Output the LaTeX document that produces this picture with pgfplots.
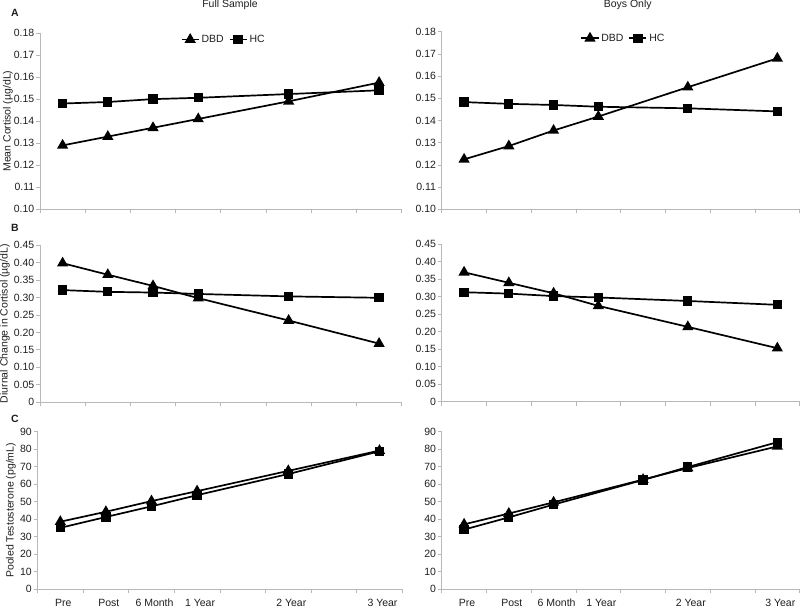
\documentclass[border=0pt]{standalone}
\usepackage{fontspec}
\setmainfont{Liberation Sans}
\usepackage{pgfplots}
\pgfplotsset{compat=1.18}
\definecolor{axgray}{gray}{0.72}
\definecolor{txt}{gray}{0.12}
\newcommand{\fs}{\fontsize{10.5}{12}\selectfont}
\pgfplotsset{
  panel/.style={
    scale only axis,
    axis lines=left,
    axis line style={-, axgray, line width=0.9pt},
    xmin=0, xmax=8,
    xtick={0,1,2,3,4,5,6,7,8},
    xticklabels={},
    tick style={axgray, line width=0.8pt},
    tick align=outside,
    major tick length=4pt,
    tick label style={font=\fs, text=txt},
    label style={font=\fs, text=txt},
    /pgf/number format/assume math mode=true,
    yticklabel style={inner sep=1.5pt},
    clip=false,
    every axis plot/.append style={black, line width=1.7pt},
    legend style={draw=none, fill=none, font=\fs, text=txt, legend columns=2,
      at={(0.508,0.963)}, anchor=center, inner sep=0pt,
      /tikz/every even column/.append style={column sep=3pt}},
  },
  dbd/.style={mark=triangle*, mark size=4.8pt},
  hc/.style={mark=square*, mark size=3.8pt},
  rowA/.style={ymin=0.10, ymax=0.18,
    ytick={0.10,0.11,0.12,0.13,0.14,0.15,0.16,0.17,0.18},
    yticklabels={0.10,0.11,0.12,0.13,0.14,0.15,0.16,0.17,0.18}},
  rowB/.style={ymin=0, ymax=0.45,
    ytick={0,0.05,0.10,0.15,0.20,0.25,0.30,0.35,0.40,0.45},
    yticklabels={0,0.05,0.10,0.15,0.20,0.25,0.30,0.35,0.40,0.45}},
  rowC/.style={ymin=0, ymax=90, ytick={0,10,20,30,40,50,60,70,80,90},
     extra x ticks={0.5,1.5,2.5,3.5,5.5,7.5},
     extra x tick labels={Pre,Post,6 Month,1 Year,2 Year,3 Year},
     extra x tick style={major tick length=0pt,
       tick label style={yshift=-6pt, xshift=3pt, text height=8pt, text depth=2pt}}},
}
\begin{document}
\begin{tikzpicture}
\useasboundingbox (0,0) rectangle (800pt,-608pt);

% Titles and panel letters
\node[font=\fs, text=txt] at (230pt,-5pt) {Full Sample};
\node[font=\fs, text=txt] at (627.7pt,-5pt) {Boys Only};
\node[font=\fs\bfseries, text=txt] at (15pt,-13pt) {A};
\node[font=\fs\bfseries, text=txt] at (15pt,-227.7pt) {B};
\node[font=\fs\bfseries, text=txt] at (15pt,-419.3pt) {C};

% ---------- A left ----------
\begin{axis}[panel, rowA, at={(40pt,-209.3pt)}, anchor=south west,
  width=361.7pt, height=176.3pt,
  ylabel={Mean Cortisol (µg/dL)},
  ylabel style={at={(axis description cs:-0.0885,0.5)}, anchor=center}]
\addplot[dbd] coordinates {(0.5,0.129) (1.5,0.133) (2.5,0.137) (3.5,0.141) (5.5,0.149) (7.5,0.1575)};
\addlegendentry{DBD}
\addplot[hc] coordinates {(0.5,0.148) (1.5,0.1487) (2.5,0.1500) (3.5,0.1506) (5.5,0.1523) (7.5,0.1540)};
\addlegendentry{HC}
\end{axis}

% ---------- A right ----------
\begin{axis}[panel, rowA, at={(441.7pt,-209.3pt)}, anchor=south west,
  width=358pt, height=177.6pt]
\addplot[dbd] coordinates {(0.5,0.1225) (1.5,0.1285) (2.5,0.1355) (3.5,0.1418) (5.5,0.1550) (7.5,0.1680)};
\addlegendentry{DBD}
\addplot[hc] coordinates {(0.5,0.1483) (1.5,0.1475) (2.5,0.1470) (3.5,0.1462) (5.5,0.1455) (7.5,0.1441)};
\addlegendentry{HC}
\end{axis}

% ---------- B left ----------
\begin{axis}[panel, rowB, at={(40pt,-402.3pt)}, anchor=south west,
  width=361.7pt, height=157.3pt,
  ylabel={Diurnal Change in Cortisol (µg/dL)},
  ylabel style={at={(axis description cs:-0.097,0.5)}, anchor=center}]
\addplot[dbd] coordinates {(0.5,0.398) (1.5,0.365) (2.5,0.333) (3.5,0.298) (5.5,0.234) (7.5,0.168)};
\addplot[hc] coordinates {(0.5,0.321) (1.5,0.316) (2.5,0.314) (3.5,0.310) (5.5,0.303) (7.5,0.299)};
\end{axis}

% ---------- B right ----------
\begin{axis}[panel, rowB, at={(441.7pt,-401.7pt)}, anchor=south west,
  width=358pt, height=157.4pt]
\addplot[dbd] coordinates {(0.5,0.370) (1.5,0.340) (2.5,0.310) (3.5,0.274) (5.5,0.214) (7.5,0.153)};
\addplot[hc] coordinates {(0.5,0.313) (1.5,0.309) (2.5,0.302) (3.5,0.298) (5.5,0.288) (7.5,0.277)};
\end{axis}

% ---------- C left ----------
\begin{axis}[panel, rowC, at={(37.5pt,-589pt)}, anchor=south west,
  width=364.8pt, height=157.3pt,
  ylabel={Pooled Testosterone (pg/mL)},
  ylabel style={at={(axis description cs:-0.0726,0.5)}, anchor=center}]
\addplot[dbd] coordinates {(0.5,38.5) (1.5,44.2) (2.5,50.3) (3.5,56.0) (5.5,67.6) (7.5,79.2)};
\addplot[hc] coordinates {(0.5,35.0) (1.5,41.2) (2.5,47.3) (3.5,53.7) (5.5,65.8) (7.5,78.8)};
\end{axis}

% ---------- C right ----------
\begin{axis}[panel, rowC, at={(441.7pt,-589pt)}, anchor=south west,
  width=358pt, height=157.3pt]
\addplot[dbd] coordinates {(0.5,37.0) (1.5,43.2) (2.5,49.6) (4.5,62.6) (5.5,69.2) (7.5,81.6)};
\addplot[hc] coordinates {(0.5,34.0) (1.5,41.0) (2.5,48.3) (4.5,62.4) (5.5,69.8) (7.5,84.0)};
\end{axis}
\end{tikzpicture}
\end{document}
